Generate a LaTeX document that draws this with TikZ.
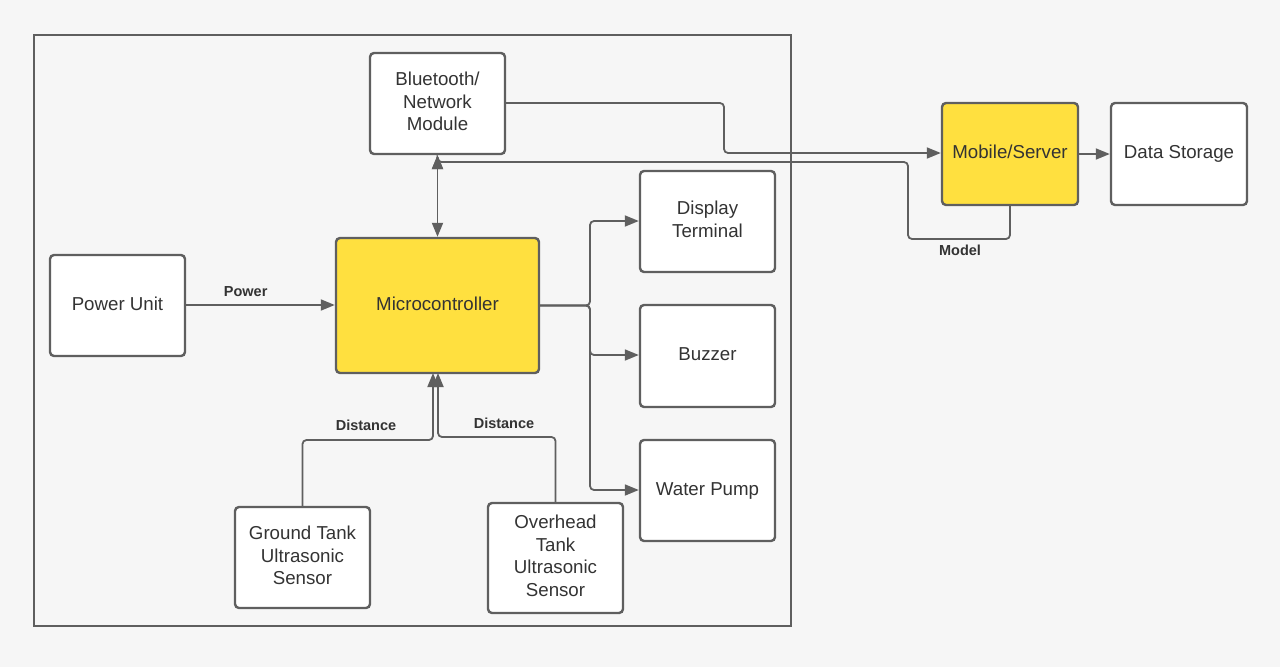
\documentclass[tikz,border=0pt]{standalone}
\usepackage{fontspec}
\setmainfont{Liberation Sans}
\usetikzlibrary{arrows.meta}
\definecolor{bg}{HTML}{F6F6F6}
\definecolor{ln}{HTML}{5F5F5F}
\definecolor{yel}{HTML}{FFE03F}
\definecolor{tx}{HTML}{333333}
\newcommand\tb[1]{\raisebox{5pt}{\begin{tabular}{@{}c@{}}#1\end{tabular}}}
\tikzset{
  box/.style={draw=ln, line width=2.4pt, rounded corners=4pt, fill=white, text=tx,
    font=\fontsize{18.7}{22.5}\selectfont, inner sep=0pt},
  ybox/.style={box, fill=yel},
  tip/.tip={Triangle[length=14pt,width=11pt]},
  conn/.style={draw=ln, line width=1.8pt, rounded corners=4pt, -tip},
  lbl/.style={text=tx, font=\fontsize{14.5}{17}\selectfont\bfseries, inner sep=0pt}
}
\begin{document}
\begin{tikzpicture}[x=1pt,y=-1pt]
\fill[bg] (0,0) rectangle (1280,667);
\useasboundingbox (0,0) rectangle (1280,667);
% frame
\draw[ln, line width=2.4pt] (34,35) rectangle (791,626);
% nodes
\node[box, minimum width=135pt, minimum height=101pt] (bt) at (437.5,103.5) {\tb{Bluetooth/\\Network\\Module}};
\node[ybox, minimum width=136pt, minimum height=102pt] (mob) at (1010,154) {\tb{Mobile/Server}};
\node[box, minimum width=136pt, minimum height=102pt] (ds) at (1179,154) {\tb{Data Storage}};
\node[box, minimum width=135pt, minimum height=101pt] (pu) at (117.5,305.5) {\tb{Power Unit}};
\node[ybox, minimum width=203pt, minimum height=135pt] (mc) at (437.5,305.5) {\tb{Microcontroller}};
\node[box, minimum width=135pt, minimum height=101pt] (dt) at (707.5,221.5) {\tb{Display\\Terminal}};
\node[box, minimum width=135pt, minimum height=102pt] (bz) at (707.5,356) {\tb{Buzzer}};
\node[box, minimum width=135pt, minimum height=101pt] (wp) at (707.5,490.5) {\tb{Water Pump}};
\node[box, minimum width=135pt, minimum height=101pt] (gt) at (302.5,557.5) {\tb{Ground Tank\\Ultrasonic\\Sensor}};
\node[box, minimum width=135pt, minimum height=110pt] (ot) at (555.5,558) {\tb{Overhead\\Tank\\Ultrasonic\\Sensor}};
% connectors
\draw[conn] (pu.east |- 0,305) -- (mc.west |- 0,305) node[lbl, pos=0.4, above=7pt] {Power};
\draw[conn, tip-tip] (bt.south) -- (mc.north);
\draw[conn] (bt.east |- 0,103) -- (724,103) -- (724,153) -- (mob.west |- 0,153);
\draw[conn] (mob.south) -- (1010,239) -- (908,239) -- (908,162) -- (437.5,162) -- (bt.south);
\node[lbl] (mlbl) at (960,250) {Model};
\draw[conn] (mob.east) -- (ds.west);
\draw[conn] (mc.east) -- (590,305.5) -- (590,221) -- (dt.west |- 0,221);
\draw[conn] (mc.east) -- (590,305.5) -- (590,355) -- (bz.west |- 0,355);
\draw[conn] (mc.east) -- (590,305.5) -- (590,490) -- (wp.west |- 0,490);
\draw[conn] (gt.north) -- (302.5,440) -- (433,440) -- (433,373);
\draw[conn] (ot.north) -- (555.5,437) -- (438,437) -- (438,373);
\node[lbl] (d1) at (366,425) {Distance};
\node[lbl] (d2) at (504,423) {Distance};
\end{tikzpicture}
\end{document}
